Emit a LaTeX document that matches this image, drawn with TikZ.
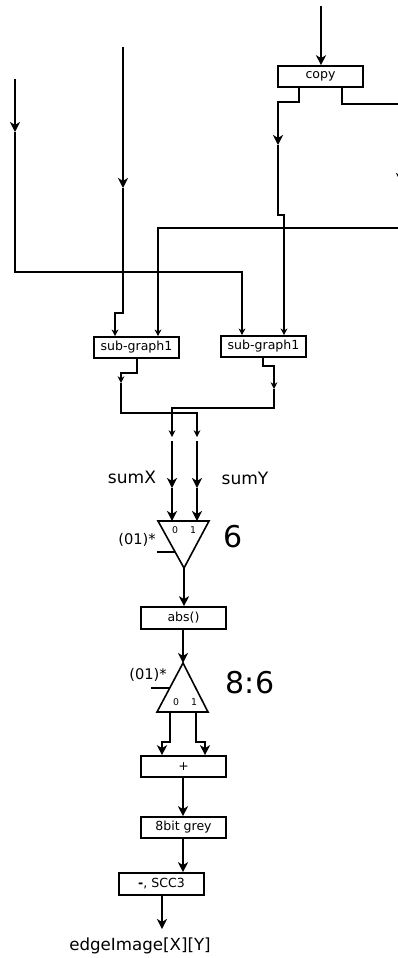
\documentclass[tikz,border=0pt]{standalone}
\usepackage{fontspec}
\setmainfont{DejaVu Sans}
\usetikzlibrary{arrows.meta}
\begin{document}
\begin{tikzpicture}[x=0.75pt,y=-0.75pt,
  wire/.style={line width=1.2pt},
  big/.style={wire,-{Stealth[length=7.5pt,width=7.5pt,inset=2.2pt]}},
  small/.style={wire,-{Stealth[length=5pt,width=5pt,inset=1.5pt]}},
  blk/.style={draw,line width=1.2pt,minimum width=63.75pt,minimum height=15.75pt,inner sep=0pt,font=\fontsize{9.4}{11}\selectfont},
  lbl/.style={font=\fontsize{12.8}{15}\selectfont,inner sep=0pt},
  huge/.style={font=\fontsize{22.5}{26}\selectfont,inner sep=0pt},
  sel/.style={font=\fontsize{11}{13}\selectfont,inner sep=0pt},
  port/.style={font=\fontsize{7}{8}\selectfont,inner sep=0pt}]
\useasboundingbox (0,0) rectangle (398,958);

% blocks
\node[blk] (copy) at (320.5,76.5) {copy};
\node[blk] (sgA) at (136.5,347.5) {sub-graph1};
\node[blk] (sgB) at (263.5,346.5) {sub-graph1};
\node[blk,minimum height=16.5pt] (abs) at (183.5,618) {abs()};
\node[blk] (plus) at (183.5,766.5) {+};
\node[blk] (grey) at (183.5,827.5) {8bit grey};
\node[blk,minimum height=16.5pt] (scc) at (161.5,884) {\textbf{-}, SCC3};

% free ends and junctions
\coordinate (inC) at (321,6);
\coordinate (inA) at (15,79);
\coordinate (inB) at (123,47);
\coordinate (jA) at (15,132);
\coordinate (jB) at (123,188);
\coordinate (jC) at (278,145);
\coordinate (jD) at (401,183);
\coordinate (jE) at (121,383);
\coordinate (jF) at (274,389);
\coordinate (jG) at (172,437);
\coordinate (jH) at (197,437);
\coordinate (kG) at (172,441);
\coordinate (kH) at (197,441);
\coordinate (lG) at (172,488);
\coordinate (lH) at (197,488);

% mux 1 (inverted)
\coordinate (m1l) at (158,521);
\coordinate (m1r) at (209,521);
\coordinate (m1o) at (184,568);
\draw[wire] (m1l) -- (m1r) -- (m1o) -- cycle;
\coordinate (m1i0) at (172,521);
\coordinate (m1i1) at (197,521);
\draw[wire] (157,552) -- (174.5,552);
\node[port] at (175,530) {0};
\node[port] at (193,530) {1};
\node[sel] at (137,540) {(01)*};
\node[huge] at (233,537) {6};

% mux 2
\coordinate (m2a) at (183,663);
\coordinate (m2l) at (157,712);
\coordinate (m2r) at (208,712);
\draw[wire] (m2a) -- (m2r) -- (m2l) -- cycle;
\draw[wire] (151,688) -- (169.5,688);
\node[port] at (176,702) {0};
\node[port] at (194,702) {1};
\node[sel] at (148,675) {(01)*};
\node[huge] at (250,683) {8:6};

% top inputs
\draw[big] (inC) -- (inC |- copy.north);
\draw[big] (inA) -- (jA);
\draw[small] (jA) -- (15,272) -| (sgB.north -| 242,0);
\draw[big] (inB) -- (jB);
\draw[small] (jB) -- (123,313) -- (115,313) -- (sgA.north -| 115,0);

% copy outputs
\draw[big] (copy.south -| 299,0) -- (299,102) -- (278,102) -- (jC);
\draw[small] (jC) -- (278,215) -- (284,215) -- (sgB.north -| 284,0);
\draw[big] (copy.south -| 342,0) -- (342,104) -- (401,104) -- (jD);
\draw[small] (jD) -- (401,228) -| (sgA.north -| 158,0);

% sub-graph outputs
\draw[small] (sgA.south -| 137,0) -- (137,373) -- (121,373) -- (jE);
\draw[small] (jE) -- (121,413) -| (jH);
\draw[small] (sgB.south -| 263,0) -- (263,366) -- (274,366) -- (jF);
\draw[small] (jF) -- (274,408) -| (jG);

% sums into mux 1
\draw[big] (kG) -- (lG);
\draw[big] (lG) -- (m1i0);
\draw[big] (kH) -- (lH);
\draw[big] (lH) -- (m1i1);
\node[lbl] at (132,477) {sumX};
\node[lbl] at (245,478) {sumY};

% chain
\draw[big] (m1o) -- (m1o |- abs.north);
\draw[big] (abs.south -| m2a) -- (m2a);
\draw[big] (170,712) -- (170,742) -- (162,742) -- (plus.north -| 162,0);
\draw[big] (196,712) -- (196,742) -- (205,742) -- (plus.north -| 205,0);
\draw[big] (plus.south -| 183,0) -- (grey.north -| 183,0);
\draw[big] (grey.south -| 183,0) -- (scc.north -| 183,0);
\coordinate (outE) at (162,929);
\draw[big] (scc.south -| 162,0) -- (outE);
\node[lbl,font=\fontsize{12.5}{15}\selectfont] (edge) at (140,946) {edgeImage[X][Y]};
\end{tikzpicture}
\end{document}
